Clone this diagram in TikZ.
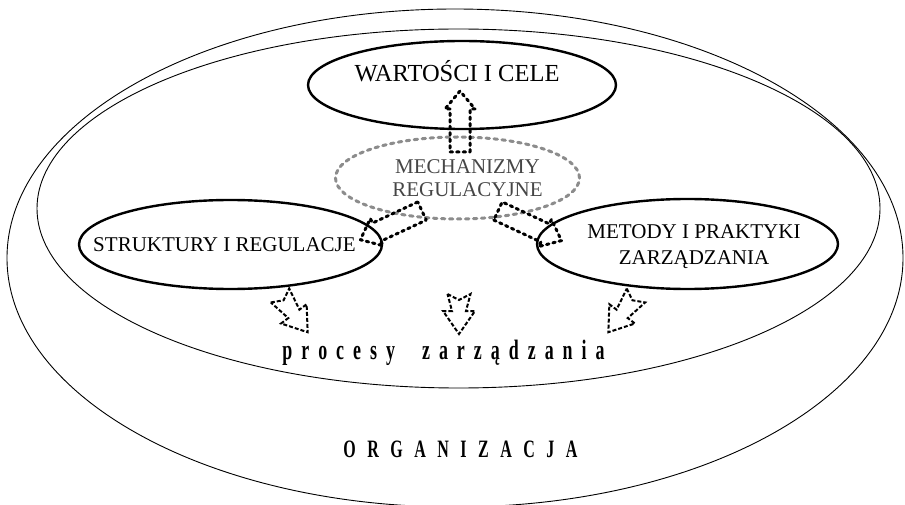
\documentclass[tikz,border=0pt]{standalone}
\usepackage{fontspec}
\setmainfont{Liberation Serif}
\newfontfamily\narrowfont{Liberation Serif}[FakeStretch=0.64]
\usetikzlibrary{shapes.geometric}
\definecolor{MechGray}{RGB}{140,140,140}
\definecolor{MechText}{RGB}{70,70,70}
\tikzset{
  ringell/.style={ellipse,draw,line width=0.9pt,inner sep=0pt},
  mainell/.style={ellipse,draw,line width=2.4pt,inner sep=0pt},
  mechell/.style={ellipse,draw=MechGray,line width=3pt,dash pattern=on 3.5pt off 4.5pt,line cap=round,inner sep=0pt},
  bigarrow/.style={line width=3pt,dash pattern=on 2.5pt off 4pt,line cap=round,line join=round},
  smallarrow/.style={line width=2pt,dash pattern=on 4pt off 2pt},
  pics/blockarr/.style={code={
    \draw[bigarrow] (0,10) -- (#1-18,10) -- (#1-18,15) -- (#1,0) -- (#1-18,-15) -- (#1-18,-10) -- (0,-10) -- cycle;
  }},
  pics/notcharr/.style={code={
    \draw[smallarrow] (0,11.5) -- (6,0) -- (0,-11.5) -- (#1-23,-7) -- (#1-23,-16) -- (#1,0) -- (#1-23,16) -- (#1-23,7) -- cycle;
  }},
}

\begin{document}
\begin{tikzpicture}[x=1pt,y=-1pt]
  \useasboundingbox (0,0) rectangle (905,505);

  % Organisation rings
  \node[ringell,minimum width=896pt,minimum height=498pt] (org) at (455,258) {};
  \node[ringell,minimum width=843pt,minimum height=359pt] (ring) at (458.5,208.5) {};

  % Main ellipses
  \node[mainell,minimum width=308pt,minimum height=88pt] (wart) at (462,85) {};
  \node[font=\fontsize{24.5}{28}\selectfont,anchor=base] at (457,81.5) {WARTOŚCI I CELE};
  \node[mainell,minimum width=303pt,minimum height=89pt] (strukt) at (230.5,244.5) {};
  \node[font=\fontsize{21}{25}\selectfont,anchor=base] at (224.5,251.5) {STRUKTURY I REGULACJE};
  \node[mainell,minimum width=301pt,minimum height=90pt] (metody) at (687.5,244) {};
  \node[font=\fontsize{21}{26}\selectfont,align=center] at (694,247) {METODY I PRAKTYKI\\ZARZĄDZANIA};

  % Regulation mechanisms
  \node[mechell,minimum width=244pt,minimum height=82pt] (mech) at (457.5,178) {};
  \node[font=\fontsize{21}{23}\selectfont,text=MechText,align=center] at (467.5,178.5) {MECHANIZMY\\REGULACYJNE};

  % Block arrows out of the mechanisms
  \pic[rotate=90] at (460,152) {blockarr=61};
  \pic[rotate=205] at (422,211) {blockarr=68};
  \pic[rotate=-25] at (498,211) {blockarr=70};

  % Arrows down to the processes
  \pic[rotate=-53] at (280,295.5) {notcharr=46};
  \pic[rotate=-90] at (459,294) {notcharr=40};
  \pic[rotate=-127] at (636,295.5) {notcharr=46};

  \node[font={\narrowfont\bfseries\fontsize{28}{30}\selectfont\spaceskip=9pt\relax},anchor=base] (proc) at (443.5,359) {p r o c e s y\ \ \ z a r z ą d z a n i a};
  \node[font={\narrowfont\bfseries\fontsize{25}{28}\selectfont\spaceskip=11.5pt\relax},anchor=base] (orgname) at (460.5,457) {O R G A N I Z A C J A};
\end{tikzpicture}
\end{document}
